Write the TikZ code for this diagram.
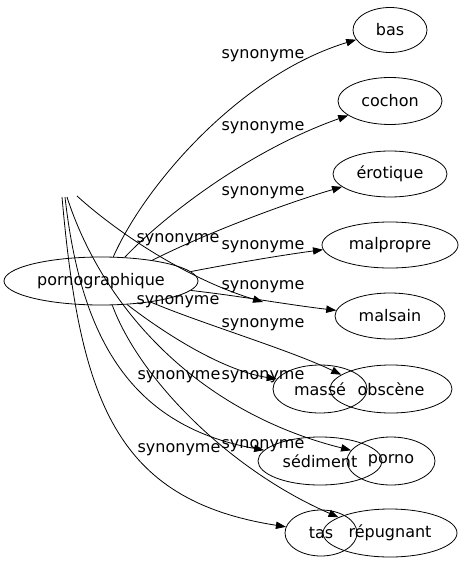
\documentclass[tikz,border=0pt]{standalone}
\usepackage{fontspec}
\setmainfont{DejaVu Sans}
\usetikzlibrary{shapes.geometric,arrows.meta}
\begin{document}
\begin{tikzpicture}[x=0.75pt,y=-0.75pt,font=\fontsize{12}{14}\selectfont,line width=0.6pt,
	mot/.style 2 args={ellipse,draw,inner sep=0pt,minimum width=#1*0.75pt,minimum height=#2*0.75pt},
	syn/.style={-{Triangle[length=7.5pt,width=5.5pt]}},
	lab/.style={inner sep=0pt}]
	\useasboundingbox (0,0) rectangle (463,563);
	\node[mot={194}{48}] (pornographique) at (101,281) {pornographique};
	\node[mot={74}{45}] (bas) at (390,30) {bas};
	\node[mot={104}{47}] (cochon) at (390,101) {cochon};
	\node[mot={114}{46}] (erotique) at (390,174) {érotique};
	\node[mot={136}{46}] (malpropre) at (390,245) {malpropre};
	\node[mot={110}{46}] (malsain) at (390,316) {malsain};
	\node[mot={94}{48}] (masse) at (320,389) {massé};
	\node[mot={122}{48}] (obscene) at (391,389) {obscène};
	\node[mot={124}{48}] (sediment) at (320,461) {sédiment};
	\node[mot={88}{48}] (porno) at (391,461) {porno};
	\node[mot={72}{46}] (tas) at (321,533) {tas};
	\node[mot={134}{48}] (repugnant) at (390,533) {répugnant};
	\coordinate (q1) at (62,197);
	\coordinate (q2) at (65,197);
	\coordinate (q3) at (67,197);
	\coordinate (q4) at (77,196);
	\coordinate (qw) at (263,302);
	\draw[syn] (pornographique.63) .. controls (145,185) and (240,75) .. (bas.196);
	\draw[syn] (pornographique.45) .. controls (165,215) and (250,150) .. (cochon.199);
	\draw[syn] (pornographique.22) .. controls (200,236) and (280,205) .. (erotique.195);
	\draw[syn] (pornographique.6) .. controls (240,262) and (290,254) .. (malpropre.184);
	\draw[syn] (pornographique.-6) .. controls (240,296) and (290,305) .. (malsain.174);
	\draw[syn] (pornographique.-23) .. controls (200,323) and (290,350) .. (obscene.164);
	\draw[syn] (pornographique.-42) .. controls (160,330) and (220,370) .. (masse.167);
	\draw[syn] (pornographique.-65) .. controls (140,380) and (230,470) .. (repugnant.163);
	\draw[syn] (q3) .. controls (100,300) and (190,410) .. (porno.165);
	\draw[syn] (q2) .. controls (80,330) and (125,425) .. (sediment.169);
	\draw[syn] (q1) .. controls (80,400) and (115,500) .. (tas.170);
	\draw[syn] (q4) .. controls (120,235) and (190,280) .. (qw);
	\node[lab] (s1) at (263,56) {synonyme};
	\node[lab] (s2) at (263,128) {synonyme};
	\node[lab] (s3) at (263,193) {synonyme};
	\node[lab] (s4) at (178,240) {synonyme};
	\node[lab] (s5) at (263,247) {synonyme};
	\node[lab] (s6) at (263,287) {synonyme};
	\node[lab] (s7) at (178,302) {synonyme};
	\node[lab] (s8) at (263,325) {synonyme};
	\node[lab] (s9) at (179,377) {synonyme};
	\node[lab] (s10) at (263,377) {synonyme};
	\node[lab] (s11) at (179,450) {synonyme};
	\node[lab] (s12) at (263,446) {synonyme};
\end{tikzpicture}
\end{document}
